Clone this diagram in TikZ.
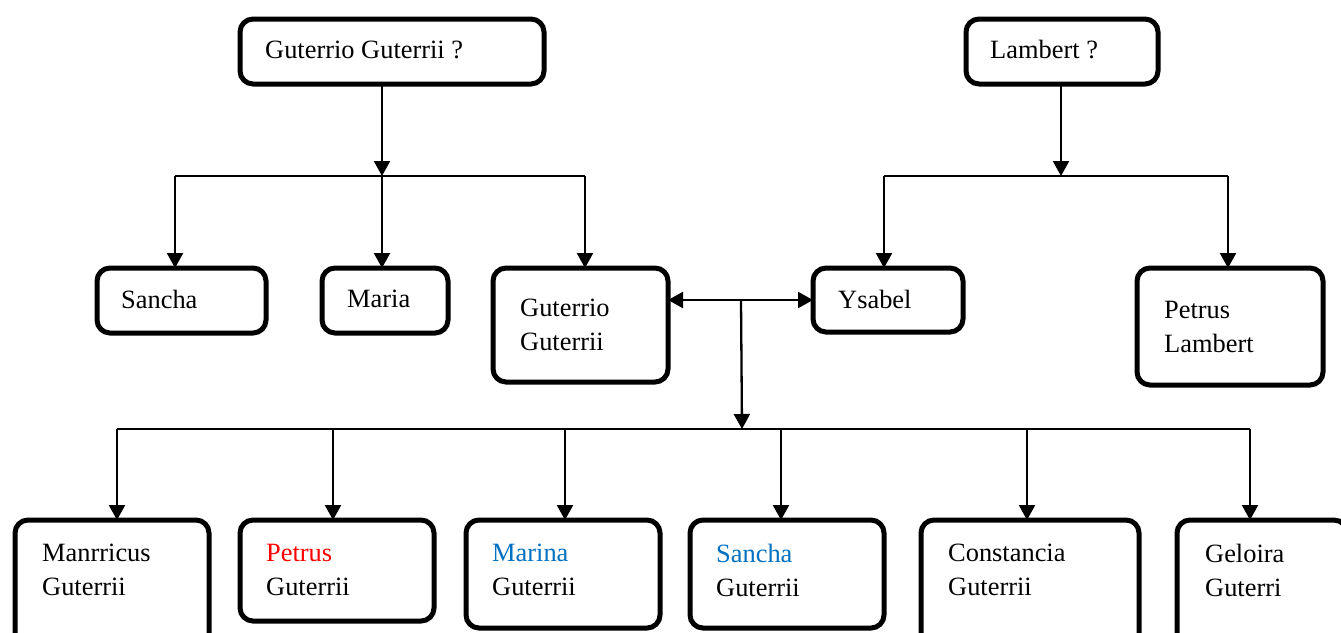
\documentclass[tikz,border=0pt]{standalone}
\usepackage{fontspec}
\setmainfont{Liberation Serif}
\usetikzlibrary{arrows.meta}
\definecolor{wblue}{HTML}{0070C0}
\definecolor{wred}{HTML}{FF0000}
\begin{document}
\begin{tikzpicture}[x=1pt,y=-1pt,
 box/.style={draw, line width=5pt, rounded corners=13pt, inner sep=0pt, outer sep=0pt, anchor=north west},
 txt/.style={inner sep=0pt, anchor=west, align=left, font=\fontsize{26.4}{34}\selectfont},
 conn/.style={line width=2pt},
 arr/.style={line width=2.3pt, -{Triangle[length=15pt,width=16pt]}},
 darr/.style={line width=2.3pt, {Triangle[length=15pt,width=16pt]}-{Triangle[length=15pt,width=16pt]}}]
\useasboundingbox (0,0) rectangle (1341,632);
\clip (0,0) rectangle (1341,632);
% boxes
\node[box, minimum width=304, minimum height=65] (gg) at (240,19) {};
\node[box, minimum width=192, minimum height=65] (lam) at (966,19) {};
\node[box, minimum width=169, minimum height=65] (san1) at (97,268) {};
\node[box, minimum width=126, minimum height=65] (mari) at (322,268) {};
\node[box, minimum width=175, minimum height=114] (gut) at (493,268) {};
\node[box, minimum width=150, minimum height=64] (ysa) at (813,268) {};
\node[box, minimum width=186, minimum height=117] (pl) at (1137,268) {};
\node[box, minimum width=194, minimum height=140] (man) at (15,520) {};
\node[box, minimum width=194, minimum height=101] (pg) at (240,520) {};
\node[box, minimum width=194, minimum height=108] (mar) at (466,520) {};
\node[box, minimum width=194, minimum height=108] (sa2) at (690,520) {};
\node[box, minimum width=218, minimum height=140] (con) at (921,520) {};
\node[box, minimum width=170, minimum height=140] (gel) at (1177,520) {};
% texts
\node[txt] (ggt) at (265,50) {Guterrio Guterrii ?};
\node[txt] (lamt) at (990,50) {Lambert ?};
\node[txt] (san1t) at (121,299) {Sancha};
\node[txt] (marit) at (347,299) {Maria};
\node[txt] (gutt) at (520,325) {Guterrio\\Guterrii};
\node[txt] (ysat) at (838,299) {Ysabel};
\node[txt] (plt) at (1164,327) {Petrus\\Lambert};
\node[txt] (mant) at (42,570) {Manrricus\\Guterrii};
\node[txt] (pgt) at (266,570) {\textcolor{wred}{Petrus}\\Guterrii};
\node[txt] (mart) at (492,570) {\textcolor{wblue}{Marina}\\Guterrii};
\node[txt] (sa2t) at (716,570) {\textcolor{wblue}{Sancha}\\Guterrii};
\node[txt] (cont) at (948,570) {Constancia\\Guterrii};
\node[txt] (gelt) at (1205,570) {Geloira\\Guterri};
% left family
\coordinate (b1) at (382,176);
\coordinate (b1L) at (175,176);
\coordinate (b1R) at (585,176);
\draw[arr] (b1 |- gg.south) -- (b1);
\draw[conn] (b1L) -- (b1R);
\draw[arr] (b1L) -- (b1L |- san1.north);
\draw[arr] (b1) -- (b1 |- mari.north);
\draw[arr] (b1R) -- (b1R |- gut.north);
% right family
\coordinate (b2) at (1061,176);
\coordinate (b2L) at (884,176);
\coordinate (b2R) at (1228,176);
\draw[arr] (b2 |- lam.south) -- (b2);
\draw[conn] (b2L) -- (b2R);
\draw[arr] (b2L) -- (b2L |- ysa.north);
\draw[arr] (b2R) -- (b2R |- pl.north);
% marriage
\coordinate (m) at (741,300);
\draw[darr] (gut.east |- m) -- (ysa.west |- m);
\coordinate (b3) at (742,429);
\draw[arr] (m) -- (b3);
\coordinate (c1) at (117,429);
\coordinate (c2) at (333,429);
\coordinate (c3) at (565,429);
\coordinate (c4) at (781,429);
\coordinate (c5) at (1027,429);
\coordinate (c6) at (1250,429);
\draw[conn] (c1) -- (c6);
\draw[arr] (c1) -- (c1 |- man.north);
\draw[arr] (c2) -- (c2 |- pg.north);
\draw[arr] (c3) -- (c3 |- mar.north);
\draw[arr] (c4) -- (c4 |- sa2.north);
\draw[arr] (c5) -- (c5 |- con.north);
\draw[arr] (c6) -- (c6 |- gel.north);
\end{tikzpicture}
\end{document}
